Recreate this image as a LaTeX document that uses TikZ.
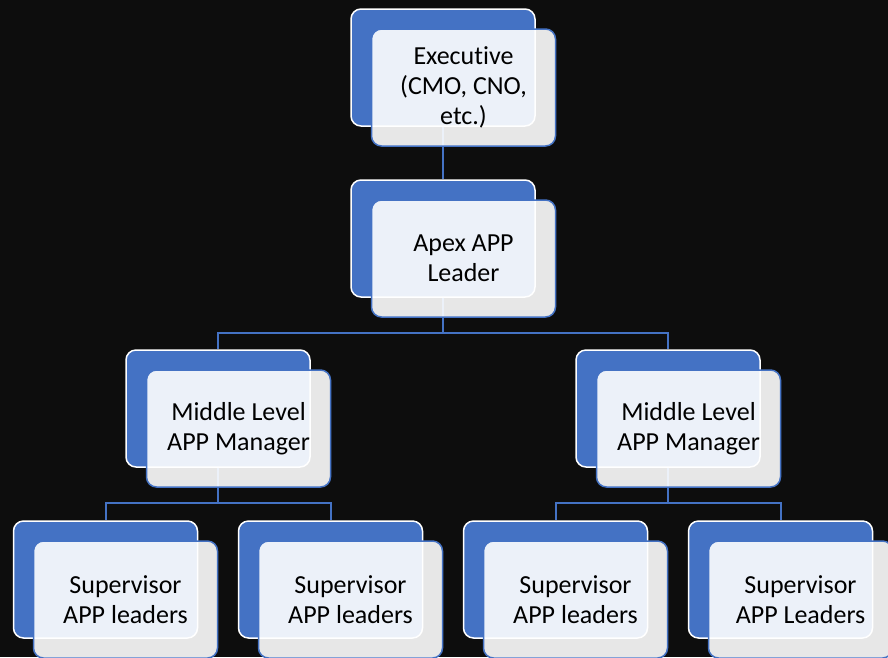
\documentclass[tikz,border=0pt]{standalone}
\usepackage{fontspec}
\setmainfont{Carlito}[RawFeature={-liga;-clig;-calt;-dlig;-rlig}]
\definecolor{chartblue}{HTML}{4472C4}
\definecolor{chartbg}{HTML}{0D0D0D}
\tikzset{
  backbox/.style={draw=white, line width=1.5pt, fill=chartblue,
    rounded corners=10pt, minimum width=184pt, minimum height=117pt, inner sep=0pt},
  frontbox/.style={draw=chartblue, line width=1.5pt, fill=white, fill opacity=0.9,
    text opacity=1, rounded corners=10pt, minimum width=184pt, minimum height=117pt,
    inner sep=0pt, align=center, font=\fontsize{26}{30}\selectfont},
  link/.style={chartblue, line width=2pt}
}

\begin{document}
\begin{tikzpicture}[x=1pt,y=-1pt]
\clip (0,0) rectangle (888,657);
\fill[chartbg] (0,0) rectangle (888,657);

% back boxes
\node[backbox] (exec-b) at (443,67.5) {};
\node[backbox] (apex-b) at (443,238.5) {};
\node[backbox] (midL-b) at (218,408.5) {};
\node[backbox] (midR-b) at (668,408.5) {};
\node[backbox] (sup1-b) at (105.5,579.5) {};
\node[backbox] (sup2-b) at (330.5,579.5) {};
\node[backbox] (sup3-b) at (555.5,579.5) {};
\node[backbox] (sup4-b) at (780.5,579.5) {};

% connectors
\coordinate (bus1) at (443,333);
\coordinate (bus2) at (218,503);
\coordinate (bus3) at (668,503);
\draw[link] (exec-b.south) -- (apex-b.north);
\draw[link] (apex-b.south) -- (bus1);
\draw[link] (midL-b.north) |- (bus1) -| (midR-b.north);
\draw[link] (midL-b.south) -- (bus2);
\draw[link] (sup1-b.north) |- (bus2) -| (sup2-b.north);
\draw[link] (midR-b.south) -- (bus3);
\draw[link] (sup3-b.north) |- (bus3) -| (sup4-b.north);

% front boxes
\node[frontbox] (exec) at (463.5,87.5) {Executive\\(CMO, CNO,\\etc.)};
\node[frontbox] (apex) at (463.5,258.5) {Apex APP\\Leader};
\node[frontbox] (midL) at (238.5,428.5) {Middle Level\\APP Manager};
\node[frontbox] (midR) at (688.5,428.5) {Middle Level\\APP Manager};
\node[frontbox] (sup1) at (125.5,599.5) {Supervisor\\APP leaders};
\node[frontbox] (sup2) at (350.5,599.5) {Supervisor\\APP leaders};
\node[frontbox] (sup3) at (575.5,599.5) {Supervisor\\APP leaders};
\node[frontbox] (sup4) at (800.5,599.5) {Supervisor\\APP Leaders};
\end{tikzpicture}
\end{document}
